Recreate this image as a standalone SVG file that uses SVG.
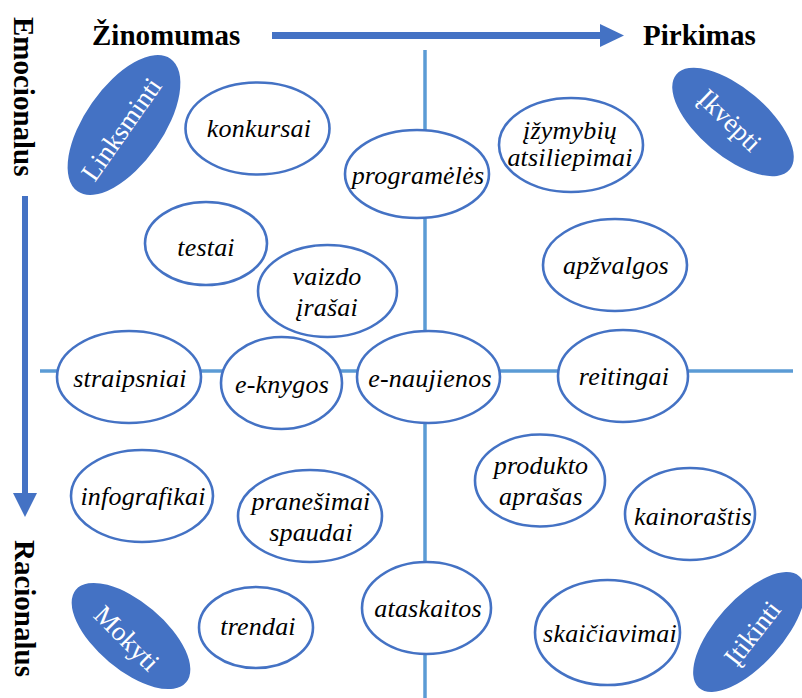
<svg xmlns="http://www.w3.org/2000/svg" width="802" height="698" viewBox="0 0 802 698">
<style>
.n{fill:#fff;stroke:#4472C4;stroke-width:2.6}
.c{fill:#4472C4;stroke:none}
.ax{stroke:#5B9BD5;stroke-width:3.5;fill:none}
.ar{fill:#4472C4}
</style>
<rect width="802" height="698" fill="#fff"/>
<g id="connectors">
<line class="ax" x1="425" y1="50" x2="425" y2="698"/>
<line class="ax" x1="40" y1="371" x2="793" y2="371"/>
<rect class="ar" x="272" y="32" width="330" height="7"/>
<polygon class="ar" points="600,24 624,35.5 600,47"/>
<rect class="ar" x="22" y="196" width="6" height="299"/>
<polygon class="ar" points="13,493 37,493 25,517"/>
</g>
<g id="labels" font-family="'Liberation Serif', 'Times New Roman', serif" font-weight="bold" font-size="29" fill="#000">
<text x="92" y="45">Žinomumas</text>
<text x="643" y="45">Pirkimas</text>
<text transform="translate(14,17) rotate(90)">Emocionalus</text>
<text transform="translate(15,540) rotate(90)">Racionalus</text>
</g>
<g font-family="'Liberation Serif', 'Times New Roman', serif" font-size="27" fill="#fff" text-anchor="middle">
<g id="linksminti">
<ellipse class="c" cx="124" cy="125" rx="81" ry="39" transform="rotate(-55 124 125)"/>
<text transform="translate(121,129) rotate(-55)" dy="0.35em">Linksminti</text>
</g>
<g id="ikvepti">
<ellipse class="c" cx="733" cy="122" rx="74" ry="34" transform="rotate(40 733 122)"/>
<text transform="translate(730,120) rotate(44)" dy="0.35em">Įkvėpti</text>
</g>
<g id="mokyti">
<ellipse class="c" cx="131" cy="636" rx="72" ry="34" transform="rotate(40 131 636)"/>
<text transform="translate(127,638) rotate(45)" dy="0.35em">Mokyti</text>
</g>
<g id="itikinti">
<ellipse class="c" cx="749" cy="632" rx="75" ry="33" transform="rotate(-48 749 632)"/>
<text transform="translate(752,633) rotate(-52)" dy="0.35em">Įtikinti</text>
</g>
</g>
<g font-family="'Liberation Serif', 'Times New Roman', serif" font-style="italic" font-size="26" letter-spacing="0.2" fill="#000" text-anchor="middle">
<g id="konkursai">
<ellipse class="n" cx="257.5" cy="128.5" rx="72" ry="46"/>
<text x="259" y="137">konkursai</text>
</g>
<g id="programeles">
<ellipse class="n" cx="417" cy="174" rx="72" ry="44"/>
<text x="418" y="184">programėlės</text>
</g>
<g id="izymybiu">
<ellipse class="n" cx="571" cy="145" rx="72" ry="47"/>
<text x="570" y="139">įžymybių</text>
<text x="570" y="166">atsiliepimai</text>
</g>
<g id="testai">
<ellipse class="n" cx="206" cy="243.5" rx="61" ry="41.5"/>
<text x="206" y="256">testai</text>
</g>
<g id="vaizdo">
<ellipse class="n" cx="327.5" cy="291" rx="69.5" ry="46"/>
<text x="327" y="285">vaizdo</text>
<text x="327" y="316">įrašai</text>
</g>
<g id="apzvalgos">
<ellipse class="n" cx="615" cy="265" rx="72" ry="46"/>
<text x="616" y="274">apžvalgos</text>
</g>
<g id="straipsniai">
<ellipse class="n" cx="129" cy="377" rx="72" ry="46"/>
<text x="130" y="387">straipsniai</text>
</g>
<g id="eknygos">
<ellipse class="n" cx="281.5" cy="383" rx="60.5" ry="46"/>
<text x="282" y="393">e-knygos</text>
</g>
<g id="enaujienos">
<ellipse class="n" cx="428.5" cy="377" rx="71.5" ry="46"/>
<text x="430" y="387">e-naujienos</text>
</g>
<g id="reitingai">
<ellipse class="n" cx="623" cy="376" rx="65" ry="46"/>
<text x="624" y="385">reitingai</text>
</g>
<g id="infografikai">
<ellipse class="n" cx="142" cy="496" rx="71" ry="46"/>
<text x="143" y="505">infografikai</text>
</g>
<g id="pranesimai">
<ellipse class="n" cx="310" cy="516" rx="72" ry="46"/>
<text x="311" y="510">pranešimai</text>
<text x="311" y="541">spaudai</text>
</g>
<g id="produkto">
<ellipse class="n" cx="540" cy="480.5" rx="65" ry="46"/>
<text x="541" y="474">produkto</text>
<text x="541" y="505">aprašas</text>
</g>
<g id="kainorastis">
<ellipse class="n" cx="690" cy="514" rx="65" ry="46"/>
<text x="693" y="525">kainoraštis</text>
</g>
<g id="ataskaitos">
<ellipse class="n" cx="426.5" cy="608" rx="64.5" ry="46"/>
<text x="428" y="617">ataskaitos</text>
</g>
<g id="skaiciavimai">
<ellipse class="n" cx="607.5" cy="632.5" rx="72.5" ry="52.5"/>
<text x="610" y="642">skaičiavimai</text>
</g>
<g id="trendai">
<ellipse class="n" cx="256" cy="627.5" rx="57" ry="40.5"/>
<text x="258" y="635">trendai</text>
</g>
</g>
</svg>
